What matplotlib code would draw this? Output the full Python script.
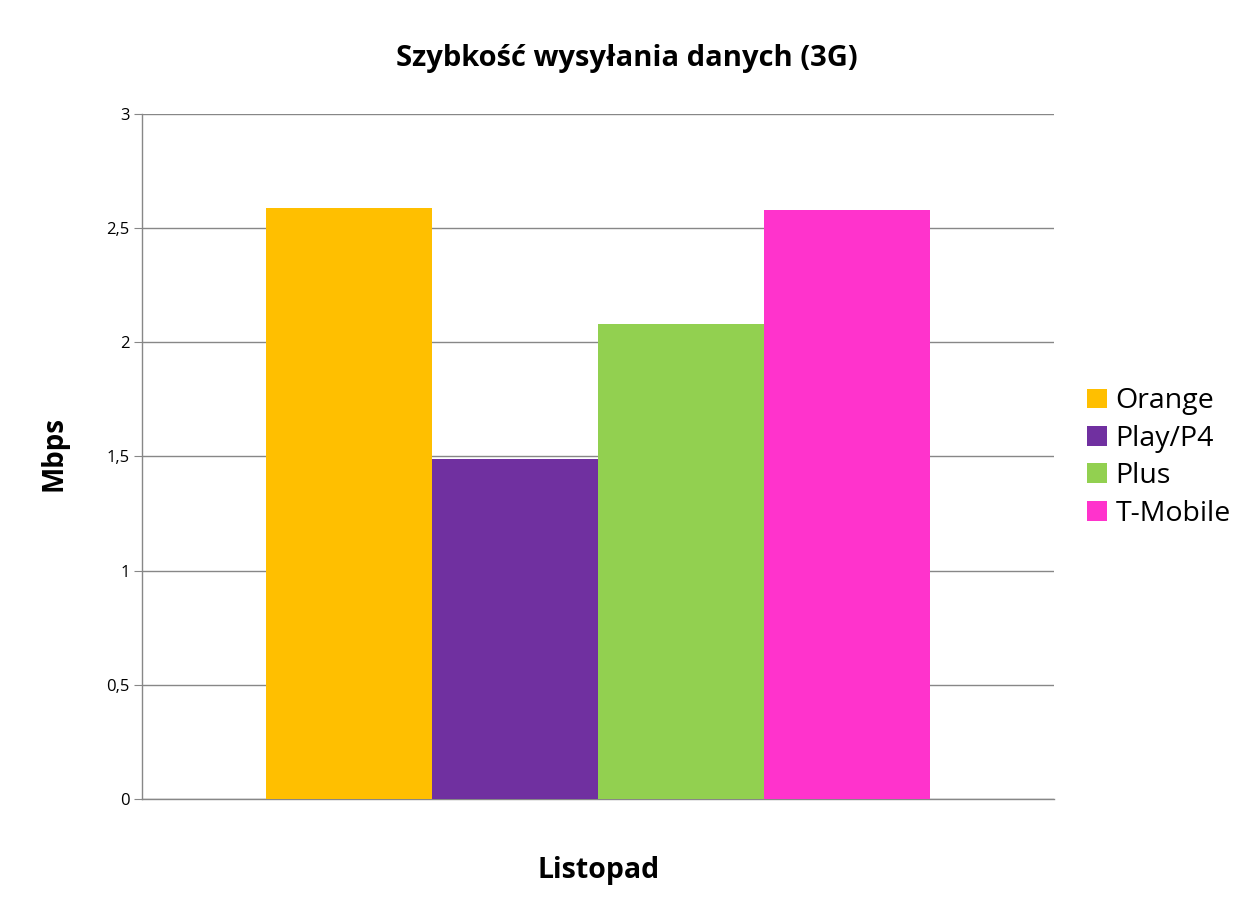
import numpy as np
import matplotlib.pyplot as plt
from matplotlib.ticker import FuncFormatter

plt.rcParams['font.family'] = ['Open Sans', 'DejaVu Sans']

operators = ['Orange', 'Play/P4', 'Plus', 'T-Mobile']
speeds = [2.59, 1.49, 2.08, 2.58]
colors = ['#FFBF00', '#7030A0', '#92D050', '#FF33CC']
y_ticks = [0, 0.5, 1, 1.5, 2, 2.5, 3]

fig = plt.figure(figsize=(12.54, 9.07), dpi=100)
ax = fig.add_axes([0.1132, 0.1191, 0.7273, 0.7552])

x = np.arange(len(operators)) - (len(operators) - 1) / 2
for xi, val, col, name in zip(x, speeds, colors, operators):
    ax.bar(xi, val, width=1.0, color=col, label=name, zorder=3)

ax.set_xlim(-2.747, 2.747)
ax.set_ylim(0, 3)
ax.set_yticks(y_ticks)
ax.yaxis.set_major_formatter(FuncFormatter(lambda v, p: ('%g' % v).replace('.', ',')))
ax.set_xticks([])

grid_col = '#878787'
ax.grid(axis='y', color=grid_col, lw=1, zorder=0)
for s in ['top', 'right']:
    ax.spines[s].set_visible(False)
for s in ['left', 'bottom']:
    ax.spines[s].set_color(grid_col)
    ax.spines[s].set_linewidth(1)
ax.tick_params(axis='y', length=6, color=grid_col, labelsize=12, pad=3)

fig.text(0.5, 0.936, 'Szybkość wysyłania danych (3G)', ha='center', va='center',
         fontsize=21, fontweight='bold')
fig.text(0.043, 0.5, 'Mbps', rotation=90, ha='center', va='center',
         fontsize=20, fontweight='bold')
fig.text(0.477, 0.040, 'Listopad', ha='center', va='center',
         fontsize=20.5, fontweight='bold')

leg = fig.legend(loc='center left', bbox_to_anchor=(0.8556, 0.4955), frameon=False,
                 fontsize=20.5, handlelength=0.7, handleheight=0.7,
                 handletextpad=0.3, labelspacing=0.33, borderpad=0)

fig.savefig('out.png', dpi=100)
